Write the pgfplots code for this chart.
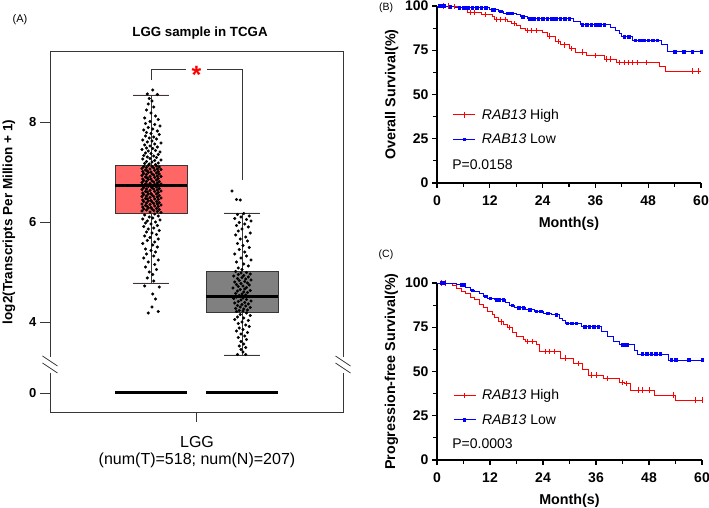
\documentclass[border=0pt]{standalone}
\usepackage{fontspec}
\setmainfont{Liberation Sans}
\usepackage{pgfplots}
\usepackage{pgfplotstable}
\usepgfplotslibrary{statistics}
\pgfplotsset{compat=1.18}

\definecolor{boxred}{RGB}{255,102,102}
\definecolor{boxgray}{RGB}{128,128,128}
\definecolor{framegray}{RGB}{55,55,55}
\newcommand\fs[1]{\fontsize{#1}{#1}\selectfont}
\tikzset{brk/.style={framegray, line width=0.8pt}}

% tumour (T) expression, jittered around x=1
\pgfplotstableread{
x y
1.02 8.64
0.96 8.56
1.07 8.55
0.98 8.47
1.01 8.42
0.97 8.36
1.03 8.30
0.95 8.24
1.00 8.18
1.05 8.12
0.93 8.08
1.08 8.05
0.99 8.01
0.94 7.97
1.04 7.95
1.10 7.92
0.97 7.89
1.02 7.86
0.92 7.84
1.07 7.82
0.95 7.79
1.00 7.77
1.09 7.75
0.94 7.72
1.03 7.70
0.98 7.68
1.06 7.66
0.91 7.64
1.01 7.62
0.96 7.60
1.11 7.58
1.04 7.56
0.93 7.54
0.99 7.52
1.07 7.50
0.95 7.48
1.02 7.47
0.90 7.45
1.05 7.43
0.97 7.42
1.10 7.40
0.94 7.38
1.00 7.37
1.08 7.35
0.92 7.33
1.03 7.32
0.96 7.30
1.06 7.29
0.99 7.27
0.91 7.26
1.11 7.24
1.04 7.23
0.95 7.21
1.01 7.20
1.08 7.18
0.93 7.17
0.98 7.16
1.05 7.15
0.97 7.13
1.06 7.12
0.92 7.11
1.01 7.11
1.09 7.10
0.95 7.09
1.03 7.08
0.90 7.07
1.07 7.06
0.99 7.06
1.11 7.05
0.94 7.04
1.04 7.03
0.96 7.02
1.08 7.01
0.91 7.01
1.00 7.00
0.97 6.99
1.06 6.98
0.92 6.97
1.01 6.96
1.09 6.96
0.95 6.95
1.03 6.94
0.90 6.93
1.07 6.92
0.99 6.91
1.11 6.91
0.94 6.90
1.04 6.89
0.96 6.88
1.08 6.87
0.91 6.86
1.00 6.86
0.97 6.85
1.06 6.84
0.92 6.83
1.01 6.82
1.09 6.81
0.95 6.81
1.03 6.80
0.90 6.79
1.07 6.78
0.99 6.77
1.11 6.76
0.94 6.76
1.04 6.75
0.96 6.74
1.08 6.73
0.91 6.72
1.00 6.71
0.97 6.71
1.06 6.70
0.92 6.69
1.01 6.68
1.09 6.67
0.95 6.66
1.03 6.66
0.90 6.65
1.07 6.64
0.99 6.63
1.11 6.62
0.94 6.61
1.04 6.61
0.96 6.60
1.08 6.59
0.91 6.58
1.00 6.57
0.97 6.56
1.06 6.56
0.92 6.55
1.01 6.54
1.09 6.53
0.95 6.52
1.03 6.51
0.90 6.51
1.07 6.50
0.99 6.49
1.11 6.48
0.94 6.47
1.04 6.46
0.96 6.46
1.08 6.45
0.91 6.44
1.00 6.43
0.97 6.42
1.06 6.41
0.92 6.41
1.01 6.40
1.09 6.39
0.95 6.38
1.03 6.37
0.90 6.36
1.07 6.36
0.99 6.35
1.11 6.34
0.94 6.33
1.04 6.32
0.96 6.31
1.08 6.31
0.91 6.30
1.00 6.29
0.97 6.28
1.06 6.27
0.92 6.26
1.01 6.26
1.09 6.25
0.95 6.24
1.03 6.23
0.90 6.22
1.07 6.21
0.99 6.20
1.11 6.19
1.04 6.16
0.93 6.14
1.08 6.12
0.98 6.10
1.02 6.08
0.91 6.06
1.10 6.04
0.96 6.02
1.05 6.00
0.94 5.98
1.00 5.96
1.07 5.93
0.92 5.91
1.03 5.88
0.97 5.86
1.09 5.83
0.95 5.80
1.01 5.78
1.06 5.75
0.93 5.72
0.99 5.69
1.08 5.66
0.96 5.63
1.04 5.60
0.91 5.57
1.02 5.54
1.07 5.50
0.94 5.46
1.00 5.43
1.05 5.40
0.95 5.36
1.03 5.32
0.92 5.28
1.08 5.24
0.97 5.20
1.04 5.15
0.94 5.10
1.06 5.05
0.98 5.00
1.02 4.95
0.96 4.88
1.03 4.82
0.93 4.72
1.09 4.70
1.02 4.56
1.05 4.46
1.01 4.30
0.97 4.18
1.08 4.21
}\tumorpts

% normal (N) expression, jittered around x=2
\pgfplotstableread{
x y
1.89 6.62
1.94 6.45
1.98 6.44
2.02 6.17
1.95 6.15
2.08 6.12
1.99 6.10
1.92 6.07
2.05 6.05
2.10 6.02
1.97 5.99
2.03 5.96
1.94 5.93
2.07 5.90
2.00 5.86
1.96 5.82
2.09 5.78
1.93 5.74
2.04 5.70
1.98 5.66
2.06 5.62
1.95 5.57
2.01 5.53
2.08 5.49
1.97 5.45
2.03 5.40
1.92 5.36
2.05 5.32
1.99 5.28
2.10 5.24
1.94 5.20
2.02 5.16
2.07 5.12
1.96 5.08
2.00 5.05
1.93 5.01
2.05 4.99
1.99 4.98
2.09 4.96
1.96 4.95
2.02 4.93
1.91 4.92
2.07 4.90
2.00 4.89
1.95 4.87
2.04 4.86
2.10 4.84
1.97 4.83
2.03 4.81
1.92 4.80
2.06 4.78
1.99 4.77
1.94 4.75
2.08 4.74
2.01 4.72
1.96 4.71
2.05 4.69
1.90 4.68
2.03 4.66
1.98 4.65
2.09 4.63
1.95 4.62
2.02 4.60
2.06 4.59
1.93 4.57
2.00 4.56
2.04 4.54
1.97 4.53
2.08 4.51
1.94 4.50
2.01 4.48
1.91 4.47
2.05 4.45
1.99 4.44
2.10 4.42
1.96 4.41
2.03 4.39
1.92 4.38
2.07 4.36
2.00 4.35
1.95 4.33
2.04 4.32
1.98 4.30
2.09 4.29
1.93 4.27
2.02 4.26
2.06 4.24
1.97 4.23
2.01 4.22
1.94 4.21
2.05 4.18
1.98 4.15
2.09 4.13
1.95 4.10
2.02 4.08
1.92 4.05
2.07 4.03
2.00 4.00
1.96 3.97
2.04 3.94
2.08 3.91
1.97 3.88
2.01 3.85
1.94 3.82
2.06 3.79
1.99 3.76
2.03 3.72
1.96 3.69
2.05 3.65
1.99 3.61
2.02 3.56
1.97 3.52
2.04 3.49
1.99 3.45
2.01 3.40
1.95 3.35
2.04 3.35
}\normalpts

% Kaplan-Meier, overall survival
\pgfplotstableread{
t s
0 100
3 99.5
5 99
6 98
7 96.5
10 95
12.5 94
13 92.5
16 91
17 90
18 89
19 87.5
20 86
24 85
25 83
27 80
28 78
30 76
31.5 74
34 72
38 70
40.8 68
50.5 65.8
52 63.3
60 63.3
}\osHigh
\pgfplotstableread{
t s
1.5 100
2.5 100
4 99.5
7.5 96.5
8.5 96.5
11 95
13.5 92.5
14.5 92.5
15.5 92.5
17.5 90
20.5 86
21.5 86
22.5 86
25.5 83
27.5 80
29 78
30.5 76
33 74
36 72
38.5 70
39.5 70
41.5 68
42.5 68
43.5 68
44.5 68
45.5 68
47.5 68
58 63.3
59.5 63.3
}\osHighCens
\pgfplotstableread{
t s
0 100
2 99.5
4 99
12 98
14 97
15 96
18 95
19 94
20.5 92.8
31 91.4
32.5 89.5
39.5 88
40.5 86
41.5 84.5
42 82.6
44.5 80.7
51 78
52.4 74.2
60 74.2
}\osLow
\pgfplotstableread{
t s
0.5 100
1 100
1.5 100
3 99.5
5 99
6 99
7 99
8 99
9 99
10 99
11 99
12.5 98
13 98
14.5 97
16 96
17 96
19.5 94
21 92.8
22 92.8
23 92.8
24 92.8
25 92.8
26 92.8
27 92.8
28 92.8
29 92.8
30 92.8
33 89.5
34 89.5
35 89.5
36 89.5
37 89.5
38 89.5
42.5 82.6
43.5 82.6
45 80.7
46 80.7
47 80.7
48 80.7
49 80.7
50 80.7
54 74.2
56 74.2
58 74.2
60 74.2
}\osLowCens

% Kaplan-Meier, progression-free survival
\pgfplotstableread{
t s
0 100
2.5 99.5
3.5 98.5
4.5 97
5.5 95.5
6.5 94
7.5 92
8.5 90.5
9.5 88
10.5 86
11.5 84
12.5 82
13 80.5
14 78
15 76.5
16 75
17 72
18 70
19.5 68
20 66.8
22.5 65
23.3 61.5
28 57.6
31 54.6
33 51
34.2 48
37.6 46.2
41.4 44
42.5 43
43.9 39.5
49.2 36.7
54.1 33.9
60 33.9
}\pfsHigh
\pgfplotstableread{
t s
1 100
2 100
14.5 78
16.5 75
20.5 66.8
21.5 66.8
24.5 61.5
25.5 61.5
26.5 61.5
29 57.6
32 54.6
35 48
36 48
38.5 46.2
42 44
43 43
45.5 39.5
46.5 39.5
48 39.5
53.5 36.7
58.5 33.9
60 33.9
}\pfsHighCens
\pgfplotstableread{
t s
0 100
2.5 99.5
4.5 99
6.5 97.5
7.5 96
8.5 95
9.5 94
10.5 92.5
11.5 91.5
13 90.5
15.5 89
16.5 87.5
17.5 86
20 85
22 84
24 83
26 82
27.8 80
28.5 78.7
29 77.2
32.7 75.3
37.3 72.5
38.7 69.7
40 66.8
41.4 65
44.8 62.1
45.4 59.9
52.3 56.5
60 56.5
}\pfsLow
\pgfplotstableread{
t s
1 100
1.5 100
5.5 99
6 99
8 96
11 92.5
12 91.5
13.5 90.5
14 90.5
15 90.5
17 87.5
18.5 86
19.5 86
21 85
22.5 84
23.5 84
25 83
27 82
29.5 77.2
30.5 77.2
31.5 77.2
33.5 75.3
34.5 75.3
35.5 75.3
36.5 75.3
42 65
43 65
46.5 59.9
47.5 59.9
48.5 59.9
49.5 59.9
50.5 59.9
53 56.5
54 56.5
57 56.5
60 56.5
}\pfsLowCens

\pgfplotsset{
  km/.style={
    scale only axis,
    xmin=0, xmax=60, ymin=0, ymax=100,
    axis lines=left,
    axis line style={line width=1.6pt, -},
    xtick={0,12,...,60}, minor xtick={6,18,30,42,54},
    ytick={0,25,50,75,100}, minor ytick={12.5,37.5,62.5,87.5},
    tick align=outside, major tick length=5pt, minor tick length=4pt,
    every tick/.style={black, line width=1.2pt},
    ticklabel style={font=\fs{14}\bfseries},
    xticklabel style={yshift=-4pt},
    /pgf/number format/assume math mode=true,
    label style={font=\fs{14.3}\bfseries},
    xlabel={Month(s)},
    xlabel style={yshift=-5pt},
    clip=false,
    legend cell align=left,
    legend style={draw=none, fill=none, font=\fs{14}, row sep=9pt, inner sep=0pt},
    legend image code/.code={\draw[##1, mark repeat=2, mark phase=2]
      plot coordinates {(0pt,0pt) (11pt,0pt) (22pt,0pt)};
      \path (26pt,0pt);},
  },
  highline/.style={red, line width=0.9pt, const plot, forget plot},
  lowline/.style={blue, line width=0.9pt, const plot, forget plot},
  highcens/.style={red, only marks, mark=|, mark size=2.6pt, line width=0.9pt, forget plot},
  lowcens/.style={blue, only marks, mark=square*, mark size=1.3pt, forget plot},
}

\begin{document}
\begin{tikzpicture}
\useasboundingbox (0pt,0pt) rectangle (709pt,508pt);

% ---------- (A) box plot ----------
\begin{axis}[
  at={(50pt,96pt)}, anchor=south west,
  scale only axis, width=293pt, height=361pt,
  xmin=-0.11, xmax=3.11, ymin=2.2, ymax=9.42,
  axis line style={draw=none},
  xtick={1.5}, xticklabels={},
  ytick={2.58,4,6,8}, yticklabels={0,4,6,8},
  tick align=outside, major tick length=10pt,
  xtick pos=bottom, ytick pos=left,
  every tick/.style={framegray, line width=0.8pt},
  yticklabel style={font=\fs{13}\bfseries},
  boxplot/draw direction=y,
  clip=false,
]
\addplot[boxplot prepared={draw position=1, lower whisker=4.78,
  lower quartile=6.18, median=6.72, upper quartile=7.14, upper whisker=8.54,
  box extend=0.79, whisker extend=0.4},
  draw=framegray, fill=boxred, line width=0.7pt,
  boxplot/every median/.style={black, line width=3pt}] coordinates {};
\addplot[boxplot prepared={draw position=2, lower whisker=3.34,
  lower quartile=4.20, median=4.50, upper quartile=5.02, upper whisker=6.18,
  box extend=0.79, whisker extend=0.4},
  draw=framegray, fill=boxgray, line width=0.7pt,
  boxplot/every median/.style={black, line width=3pt}] coordinates {};

\addplot[only marks, mark=*, mark size=1.35pt, black] table[x=x, y=y] {\tumorpts};
\addplot[only marks, mark=*, mark size=1.35pt, black] table[x=x, y=y] {\normalpts};

% zero level sits below the axis break
\addplot[black, line width=3pt, y filter/.expression={y+2.58}] coordinates {(0.605,0) (1.395,0)};
\addplot[black, line width=3pt, y filter/.expression={y+2.58}] coordinates {(1.605,0) (2.395,0)};

% frame with axis breaks
\draw[brk] (axis cs:-0.11,3.30) -- (axis cs:-0.11,9.42)
  -- (axis cs:3.11,9.42) -- (axis cs:3.11,3.30);
\draw[brk] (axis cs:-0.11,2.98) -- (axis cs:-0.11,2.2)
  -- (axis cs:3.11,2.2) -- (axis cs:3.11,2.98);
\draw[brk] ([xshift=-7.5pt,yshift=5pt]axis cs:-0.11,3.22) -- ([xshift=7.5pt,yshift=-5pt]axis cs:-0.11,3.22);
\draw[brk] ([xshift=-7.5pt,yshift=5pt]axis cs:-0.11,3.08) -- ([xshift=7.5pt,yshift=-5pt]axis cs:-0.11,3.08);
\draw[brk] ([xshift=-7.5pt,yshift=5pt]axis cs:3.11,3.22) -- ([xshift=7.5pt,yshift=-5pt]axis cs:3.11,3.22);
\draw[brk] ([xshift=-7.5pt,yshift=5pt]axis cs:3.11,3.08) -- ([xshift=7.5pt,yshift=-5pt]axis cs:3.11,3.08);

% significance bracket
\draw[brk] (axis cs:1,8.84) -- (axis cs:1,9.06) -- (axis cs:1.39,9.06);
\draw[brk] (axis cs:1.62,9.06) -- (axis cs:2,9.06) -- (axis cs:2,6.84);
\node[red, anchor=base, font=\fs{25}\bfseries, inner sep=0pt]
  at ([yshift=-14pt]axis cs:1.5,9.04) {*};
\end{axis}

\node[font=\fs{11}] at (20pt,488pt) {(A)};
\node[font=\fs{13.3}\bfseries] at (200pt,475pt) {LGG sample in TCGA};
\node[font=\fs{13.5}\bfseries, rotate=90] at (9pt,286pt) {log2(Transcripts Per Million + 1)};
\node[font=\fs{16}] at (197pt,66pt) {LGG};
\node[font=\fs{16}] at (197pt,48pt) {(num(T)=518; num(N)=207)};

% ---------- (B) overall survival ----------
\begin{axis}[km,
  at={(437pt,325pt)}, anchor=south west, width=264pt, height=177pt,
  ylabel={Overall Survival(\%)},
  legend style={at={(0.06,0.43)}, anchor=north west},
]
\addplot[highline] table[x=t, y=s] {\osHigh};
\addplot[lowline] table[x=t, y=s] {\osLow};
\addplot[highcens] table[x=t, y=s] {\osHighCens};
\addplot[lowcens] table[x=t, y=s] {\osLowCens};
\addlegendimage{red, line width=0.9pt, mark=|, mark size=2.6pt}
\addlegendentry{\textit{RAB13} High}
\addlegendimage{blue, line width=0.9pt, mark=square*, mark size=1.3pt}
\addlegendentry{\textit{RAB13} Low}
\node[anchor=west, font=\fs{14}, inner sep=0pt] at (rel axis cs:0.057,0.105) {P=0.0158};
\end{axis}
\node[font=\fs{10.5}, inner sep=0pt] at (386pt,500pt) {(B)};

% ---------- (C) progression-free survival ----------
\begin{axis}[km,
  at={(437pt,48pt)}, anchor=south west, width=265pt, height=177pt,
  ylabel={Progression-free Survival(\%)},
  legend style={at={(0.06,0.41)}, anchor=north west},
]
\addplot[highline] table[x=t, y=s] {\pfsHigh};
\addplot[lowline] table[x=t, y=s] {\pfsLow};
\addplot[highcens] table[x=t, y=s] {\pfsHighCens};
\addplot[lowcens] table[x=t, y=s] {\pfsLowCens};
\addlegendimage{red, line width=0.9pt, mark=|, mark size=2.6pt}
\addlegendentry{\textit{RAB13} High}
\addlegendimage{blue, line width=0.9pt, mark=square*, mark size=1.3pt}
\addlegendentry{\textit{RAB13} Low}
\node[anchor=west, font=\fs{14}, inner sep=0pt] at (rel axis cs:0.057,0.094) {P=0.0003};
\end{axis}
\node[font=\fs{10.5}, inner sep=0pt] at (386pt,253pt) {(C)};
\end{tikzpicture}
\end{document}
